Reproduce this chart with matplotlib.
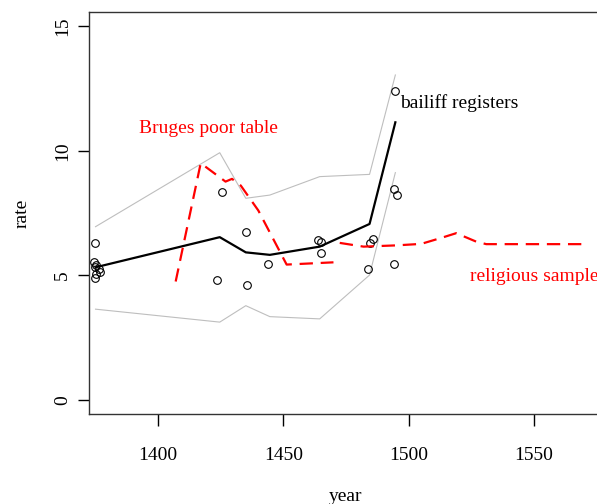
import numpy as np
import matplotlib
matplotlib.use("Agg")
import matplotlib.pyplot as plt

plt.rcParams['font.family'] = ['Liberation Serif', 'DejaVu Serif']

# decade means for the bailiff registers, with upper / lower band
fit_year = [1375, 1424.6, 1435, 1444.6, 1464.5, 1484.4, 1494.7]
fit_rate = [5.32, 6.53, 5.92, 5.82, 6.15, 7.06, 11.14]
band_hi = [6.95, 9.92, 8.09, 8.22, 8.96, 9.05, 13.04]
band_lo = [3.64, 3.12, 3.78, 3.34, 3.25, 5.01, 9.12]

# individual observations
obs_year = [1374.8, 1374.5, 1375.2, 1376.3, 1375.0, 1374.8, 1376.8, 1374.9,
            1425.5, 1435.0, 1423.7, 1435.5, 1443.7, 1463.7, 1465.0, 1465.0,
            1485.6, 1484.5, 1483.6, 1494.2, 1495.5, 1494.2, 1494.7]
obs_rate = [6.28, 5.52, 5.42, 5.25, 5.05, 4.90, 5.15, 5.32,
            8.36, 6.73, 4.81, 4.61, 5.44, 6.42, 6.35, 5.90,
            6.45, 6.31, 5.25, 8.45, 8.22, 5.46, 12.39]

# Bruges poor table
poor_year = [1407, 1417, 1426.9, 1429.5, 1433, 1440, 1451.3, 1470]
poor_rate = [4.75, 9.5, 8.76, 8.87, 8.6, 7.6, 5.43, 5.52]

# religious sample
rel_year = [1472.5, 1482, 1495, 1505, 1513, 1519, 1527, 1531, 1569]
rel_rate = [6.3, 6.15, 6.2, 6.26, 6.5, 6.69, 6.35, 6.25, 6.25]

fig = plt.figure(figsize=(5.97, 5.04), dpi=100)
ax = fig.add_axes([89/597, (504-414.3)/504, (603-89)/597, (414.3-11.7)/504])

ax.plot(fit_year, band_hi, c='#bebebe', lw=0.8)
ax.plot(fit_year, band_lo, c='#bebebe', lw=0.8)
ax.plot(fit_year, fit_rate, c='k', lw=1.6)
ax.plot(obs_year, obs_rate, 'o', mfc='none', mec='k', ms=5.5, mew=0.8)

l1, = ax.plot(poor_year, poor_rate, c='red', lw=1.6)
l2, = ax.plot(rel_year, rel_rate, c='red', lw=1.6)
for l in (l1, l2):
    l.set_dashes([6, 3.5])

ax.text(1496.5, 11.91, "bailiff registers", fontsize=14, va='center', ha='left')
ax.text(1419.9, 10.91, "Bruges poor table", fontsize=14, color='red', va='center', ha='center')
ax.text(1524.4, 4.97, "religious sample", fontsize=14, color='red', va='center', ha='left')

ax.set_xlim(1372.4, 1577.6)
ax.set_ylim(-0.58, 15.58)
ax.set_xticks([1400, 1450, 1500, 1550])
ax.set_yticks([0, 5, 10, 15])
ax.tick_params(axis='x', length=8.5, width=1, labelsize=14, pad=15)
ax.tick_params(axis='y', length=8, width=1, labelsize=14, pad=5, labelrotation=90)
for lab in ax.get_yticklabels():
    lab.set_va('center')
for s in ax.spines.values():
    s.set_linewidth(1)
    s.set_color('#333333')

ax.set_xlabel("year", fontsize=14, labelpad=17)
ax.set_ylabel("rate", fontsize=14, labelpad=17)

fig.savefig("out.png", dpi=100)
